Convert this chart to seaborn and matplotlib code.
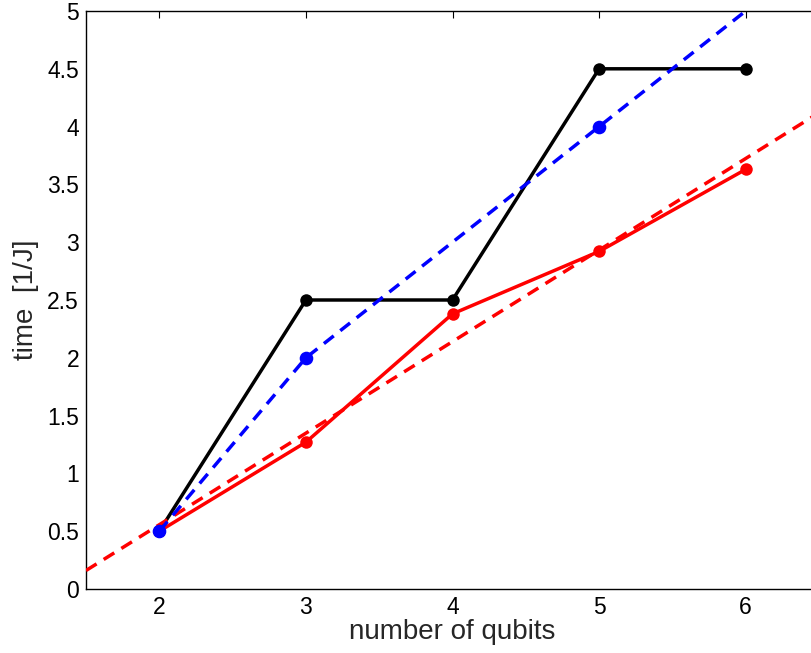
import matplotlib
matplotlib.use("Agg")
import matplotlib.pyplot as plt
import seaborn as sns
import numpy as np
from matplotlib.ticker import FuncFormatter

# data
qubits = [2, 3, 4, 5, 6]
black_time = [0.5, 2.5, 2.5, 4.5, 4.5]
red_time = [0.5, 1.27, 2.38, 2.92, 3.63]
blue_line_x = [2, 3, 4, 5, 6]
blue_line_y = [0.5, 2.0, 3.0, 4.0, 5.0]
blue_pts_x = [2, 3, 5]
blue_pts_y = [0.5, 2.0, 4.0]
red_fit_x = [1.5, 6.5]
red_fit_y = [0.16, 4.12]

sns.set_theme(style="white")
plt.rcParams['font.family'] = ['Liberation Sans', 'DejaVu Sans']

fig = plt.figure(figsize=(8.11, 6.53), dpi=100)
ax = fig.add_axes([86/811, 1 - 589/653, (819 - 86)/811, (589 - 11)/653])

lw = 2.5
ms = 9
dash = [3.6, 2.4]
sns.lineplot(x=qubits, y=black_time, ax=ax, color='black', lw=lw,
             marker='o', markersize=ms, markeredgewidth=0, zorder=2)
sns.lineplot(x=qubits, y=red_time, ax=ax, color='#ff0000', lw=lw,
             marker='o', markersize=ms, markeredgewidth=0, zorder=3)
sns.lineplot(x=red_fit_x, y=red_fit_y, ax=ax, color='#ff0000', lw=lw, zorder=3)
ax.lines[-1].set_dashes(dash)
sns.lineplot(x=blue_line_x, y=blue_line_y, ax=ax, color='#0000ff', lw=lw, zorder=4)
ax.lines[-1].set_dashes(dash)
sns.scatterplot(x=blue_pts_x, y=blue_pts_y, ax=ax, color='#0000ff', s=(ms + 0.8)**2,
                linewidth=0, zorder=5)

ax.set_xlim(1.5, 6.5)
ax.set_ylim(0, 5)
ax.set_xticks([2, 3, 4, 5, 6])
ax.set_yticks(np.arange(0, 5.01, 0.5))
ax.yaxis.set_major_formatter(FuncFormatter(lambda v, p: f"{v:g}"))
ax.tick_params(direction='in', length=5, width=0.8, top=True, right=True,
               labelsize=16.5, colors='black', pad=5)
for s in ax.spines.values():
    s.set_color('black')
    s.set_linewidth(1.0)
ax.set_xlabel('number of qubits', fontsize=20, labelpad=0)
ax.set_ylabel('time  [1/J]', fontsize=20, labelpad=6)
ax.grid(False)

fig.savefig('out.png', dpi=100)
